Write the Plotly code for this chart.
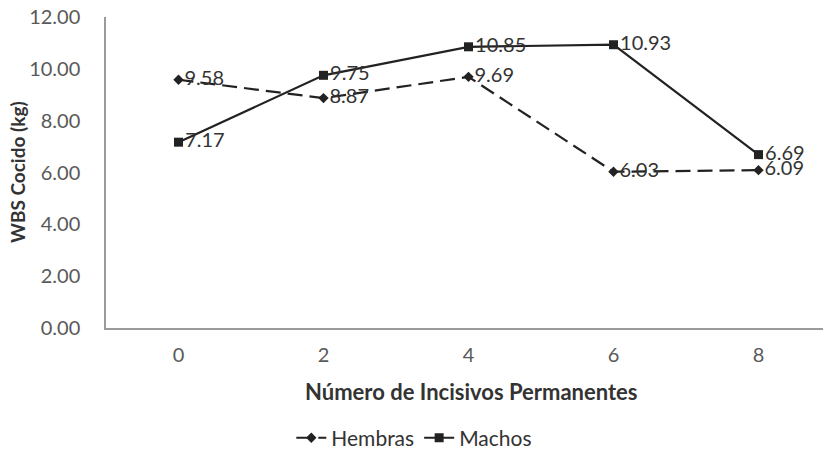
import plotly.graph_objects as go

categories = [0, 2, 4, 6, 8]
hembras = [9.58, 8.87, 9.69, 6.03, 6.09]
machos = [7.17, 9.75, 10.85, 10.93, 6.69]
y_ticks = [0, 2, 4, 6, 8, 10, 12]

FONT = "Lato, 'Open Sans', sans-serif"
INK = "#222222"
TXT = "#333333"
TICK = "#595959"

W, H = 823, 460
L, T, B = 105.5, 17, 132

fig = go.Figure()
fig.add_trace(go.Scatter(
    x=categories, y=hembras, name="Hembras", mode="lines+markers+text",
    line=dict(color=INK, width=2.2, dash="15px,7px"),
    marker=dict(symbol="diamond", size=8, color=INK),
    text=[f"{v:.2f}" for v in hembras], textposition="middle right",
    textfont=dict(family=FONT, size=20, color=TXT),
))
fig.add_trace(go.Scatter(
    x=categories, y=machos, name="Machos", mode="lines+markers+text",
    line=dict(color=INK, width=2.2),
    marker=dict(symbol="square", size=9, color=INK),
    text=[f"{v:.2f}" for v in machos], textposition="middle right",
    textfont=dict(family=FONT, size=20, color=TXT),
))

fig.update_layout(
    width=W, height=H,
    margin=dict(l=L, r=0, t=T, b=B),
    paper_bgcolor="white", plot_bgcolor="white",
    font=dict(family=FONT, color=TXT, size=18),
    showlegend=True,
    legend=dict(orientation="h", x=0.43, xanchor="center", y=-0.354, yanchor="middle",
                font=dict(family=FONT, size=21, color=TXT), itemwidth=30,
                traceorder="normal"),
    xaxis=dict(range=[-1, 8.89], tickvals=categories, ticktext=[str(c) for c in categories],
               showgrid=False, zeroline=False, showline=True, linecolor="#9a9a9a", linewidth=1.5,
               ticks="", ticklabelstandoff=8, ticklabeloverflow="allow", automargin=False,
               tickfont=dict(family=FONT, size=20, color=TICK)),
    yaxis=dict(range=[0, 12], tickvals=y_ticks, ticktext=[f"{v:.2f}" for v in y_ticks],
               showgrid=False, zeroline=False, showline=True, linecolor="#9a9a9a", linewidth=1.5,
               ticks="", ticklabelstandoff=20, ticklabeloverflow="allow", automargin=False,
               tickfont=dict(family=FONT, size=20, color=TICK)),
    annotations=[
        dict(text="<b>Número de Incisivos Permanentes</b>", xref="paper", yref="paper",
             x=0.5087, y=-0.2026, xanchor="center", yanchor="middle", showarrow=False,
             font=dict(family=FONT, size=22, color=TXT)),
        dict(text="<b>WBS Cocido (kg)</b>", xref="paper", yref="paper",
             x=-0.1233, y=0.5, xanchor="center", yanchor="middle", showarrow=False,
             textangle=-90, font=dict(family=FONT, size=19, color=TXT)),
    ],
)

fig.write_html("out.html", config={"displayModeBar": False},
               post_script="document.body.style.margin='0';document.body.style.overflow='hidden';")
